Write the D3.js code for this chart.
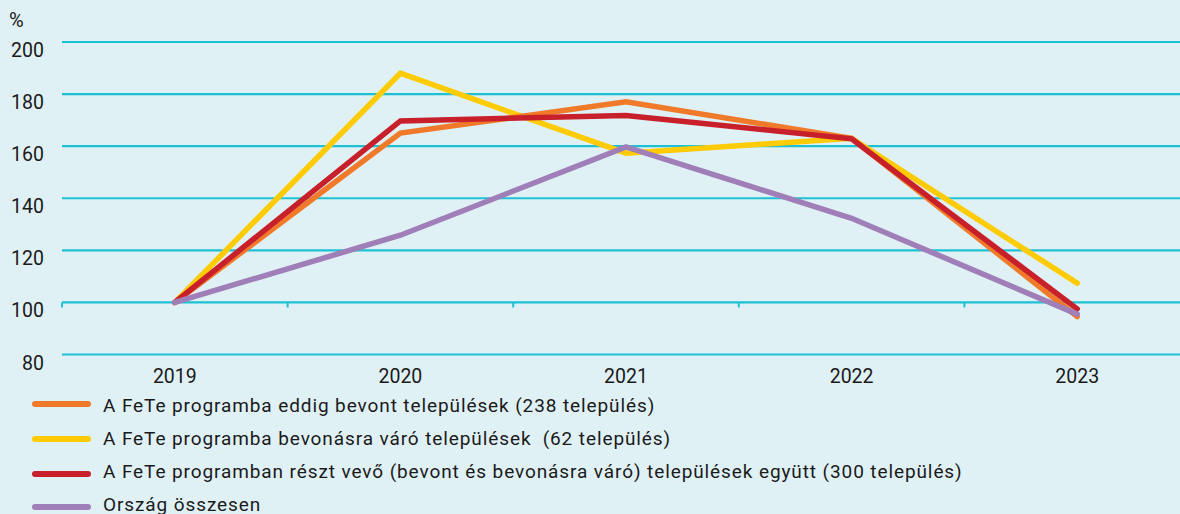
<!DOCTYPE html>
<html><head><meta charset="utf-8">
<script src="https://cdn.jsdelivr.net/npm/d3@7"></script>
<style>
html,body{margin:0;padding:0;background:#e0f1f6;}
svg{display:block;font-family:Roboto,"DejaVu Sans",sans-serif;}
text{white-space:pre;}
</style></head>
<body><svg id="c" width="1180" height="514"></svg>
<script>
const years = ["2019","2020","2021","2022","2023"];
const yTicks = [80,100,120,140,160,180,200];
const seriesNames = [
  "A FeTe programba eddig bevont települések (238 település)",
  "A FeTe programba bevonásra váró települések  (62 település)",
  "A FeTe programban részt vevő (bevont és bevonásra váró) települések együtt (300 település)",
  "Ország összesen"
];
const seriesColors = ["#f07a2a","#ffcb05","#c8202b","#a07fb9"];
const bevont = [100,165,177,163,94.6];
const varo = [100,188,157.3,163,107.4];
const egyutt = [100,169.7,171.8,162.8,97.5];
const orszag = [100,125.8,159.7,132.3,95.5];
const values = [bevont, varo, egyutt, orszag];
const drawOrder = [1,0,2,3];

const svg = d3.select("#c");
const x = d3.scaleBand().domain(years).range([62, 1190]);
const y = d3.scaleLinear().domain([80,200]).range([354.5,42]);
const grid = "#1ec0d3";

svg.append("g").selectAll("line").data(yTicks).join("line")
  .attr("x1",62).attr("x2",1180)
  .attr("y1",d=>y(d)).attr("y2",d=>y(d))
  .attr("stroke",grid).attr("stroke-width",2.2);

const bounds = years.map(d=>x(d)).concat([x.range()[1]]);
svg.append("g").selectAll("line").data(bounds).join("line")
  .attr("x1",d=>d).attr("x2",d=>d)
  .attr("y1",y(100)).attr("y2",y(100)+5)
  .attr("stroke",grid).attr("stroke-width",2);

svg.append("g").selectAll("text").data(yTicks).join("text")
  .attr("x",44).attr("y",d=>y(d)+15)
  .attr("text-anchor","end").attr("font-size",19.5).attr("fill","#1a1a1a")
  .text(d=>d);
svg.append("text").attr("x",9).attr("y",27).attr("font-size",20).attr("fill","#1a1a1a").text("%");

svg.append("g").selectAll("text").data(years).join("text")
  .attr("x",d=>x(d)+x.bandwidth()/2).attr("y",383)
  .attr("text-anchor","middle").attr("font-size",19.5).attr("fill","#1a1a1a")
  .text(d=>d);

const line = d3.line().x((d,i)=>x(years[i])+x.bandwidth()/2).y(d=>y(d));
drawOrder.forEach(k=>{
  svg.append("path").datum(values[k]).attr("d",line)
    .attr("fill","none").attr("stroke",seriesColors[k])
    .attr("stroke-width",5.5).attr("stroke-linejoin","miter").attr("stroke-linecap","round");
});

const swatchY = [404,439,474,507];
const lg = svg.append("g").selectAll("g").data(seriesNames).join("g")
  .attr("transform",(d,i)=>`translate(0,${swatchY[i]})`);
lg.append("line").attr("x1",35).attr("x2",88).attr("y1",0).attr("y2",0)
  .attr("stroke",(d,i)=>seriesColors[i]).attr("stroke-width",6).attr("stroke-linecap","round");
lg.append("text").attr("x",103).attr("y",(d,i)=>i===0?8:i===1?5.5:4)
  .attr("font-size",19).attr("letter-spacing",0.9).attr("fill","#1a1a1a")
  .text(d=>d);
</script></body></html>
